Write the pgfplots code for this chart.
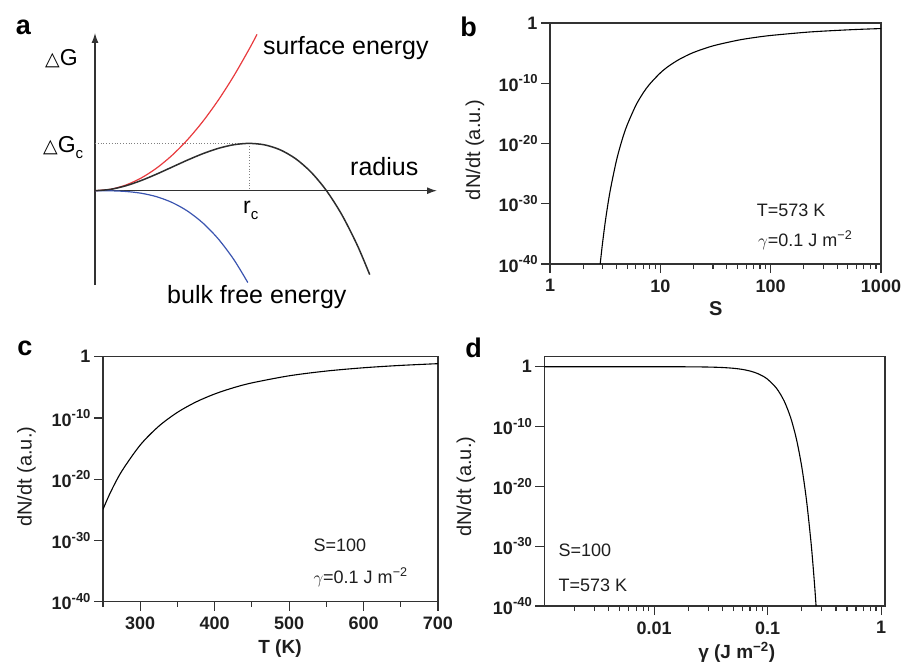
\documentclass[border=0pt]{standalone}
\usepackage{fontspec}
\setmainfont{Liberation Sans}
\newfontfamily\dejavu{DejaVu Sans}
\usepackage{pgfplots}
\pgfplotsset{compat=1.18}
\usetikzlibrary{arrows.meta}

\newcommand\fs[1]{\fontsize{#1}{#1}\selectfont}
\newcommand\sups[1]{\raisebox{0.42em}{\fs{13}#1}}

\definecolor{surfred}{RGB}{232,58,62}
\definecolor{bulkblue}{RGB}{58,84,176}
\definecolor{totgray}{RGB}{45,45,45}
\definecolor{framegray}{RGB}{50,50,50}
\definecolor{txt}{RGB}{30,30,30}

\pgfplotsset{
  nuclaxis/.style={
    scale only axis, ymin=1e-40, ymax=1,
    axis line style={framegray, line width=1.3pt},
    tick style={framegray, line width=1.1pt},
    tick align=outside, xtick pos=left, ytick pos=left,
    major tick length=9pt, minor tick length=5pt,
    ytick={1e-40,1e-30,1e-20,1e-10,1},
    yticklabels={10\sups{-40},10\sups{-30},10\sups{-20},10\sups{-10},1},
    yminorticks=false,
    tick label style={font=\bfseries\fs{18}, text=txt},
    xticklabel style={yshift=-3pt},
  },
  rateline/.style={black, line width=1.1pt, smooth, no marks},
}

\begin{document}
\begin{tikzpicture}
\path[use as bounding box] (0pt,0pt) rectangle (904pt,-666pt);

% panel a: free energy sketch
\begin{axis}[at={(95pt,-285pt)}, anchor=south west, scale only axis,
  width=342pt, height=252pt, axis lines=middle,
  xmin=0, xmax=2.216, ymin=-94.3, ymax=157.7, enlargelimits=false,
  xtick=\empty, ytick=\empty, clip=false,
  axis line style={-{Latex[length=10pt,width=7pt]}, line width=1.3pt, framegray}]
\addplot[gray, dotted, line width=0.8pt] coordinates {(0,47.3) (1,47.3)};
\addplot[gray, dotted, line width=0.8pt] coordinates {(1,47.3) (1,0)};
\addplot[surfred, line width=1.2pt, smooth] coordinates {
  (0,0) (0.1,1.42) (0.2,5.68) (0.3,12.77) (0.4,22.70) (0.5,35.48) (0.6,51.08)
  (0.7,69.53) (0.8,90.82) (0.9,114.94) (1.0,141.9) (1.05,156.4)};
\addplot[bulkblue, line width=1.2pt, smooth] coordinates {
  (0,0) (0.1,-0.10) (0.2,-0.76) (0.3,-2.55) (0.4,-6.05) (0.5,-11.83) (0.6,-20.43)
  (0.7,-32.45) (0.8,-48.44) (0.9,-68.96) (0.99,-91.79)};
\addplot[totgray, line width=1.5pt, smooth] coordinates {
  (0,0) (0.1,1.32) (0.2,4.92) (0.3,10.22) (0.4,16.65) (0.5,23.65) (0.6,30.65)
  (0.7,37.08) (0.8,42.38) (0.9,45.98) (1.0,47.3) (1.1,45.79) (1.2,40.87)
  (1.3,31.98) (1.4,18.54) (1.5,0) (1.6,-24.22) (1.7,-54.68) (1.78,-83.92)};
\end{axis}

% panel b: rate vs supersaturation
\begin{axis}[nuclaxis, ymode=log, at={(550pt,-264pt)}, anchor=south west, width=331pt, height=241pt,
  xmode=log, xmin=1, xmax=1000, xtick={1,10,100,1000}, xticklabels={1,10,100,1000},
  minor xtick={2,3,4,5,6,7,8,9,20,30,40,50,60,70,80,90,200,300,400,500,600,700,800,900}]
\addplot[rateline] coordinates {
  (2.85,1e-40) (2.9,1.86e-39) (3,4.27e-37) (3.2,3.55e-33) (3.5,1.07e-28)
  (4,1.45e-23) (4.5,3.98e-20) (5,1.12e-17) (6,2.14e-14) (7,2.57e-12)
  (8,7.08e-11) (10,5.25e-9) (12,7.76e-8) (15,1.02e-6) (20,1.29e-5)
  (30,1.60e-4) (50,1.35e-3) (70,3.70e-3) (100,8.51e-3) (200,2.73e-2)
  (300,4.48e-2) (500,7.29e-2) (700,9.48e-2) (1000,0.120)};
\end{axis}

% panel c: rate vs temperature
\begin{axis}[nuclaxis, ymode=log, at={(103pt,-601.7pt)}, anchor=south west, width=335pt, height=245pt,
  xmin=250, xmax=700, xtick={300,400,500,600,700}, xticklabels={300,400,500,600,700},
  minor xtick={250,350,450,550,650}]
\addplot[rateline] coordinates {
  (250,1.20e-25) (260,6.92e-23) (275,1.86e-19) (300,3.80e-15) (325,4.57e-12)
  (350,8.26e-10) (375,4.12e-8) (400,8.22e-7) (425,8.45e-6) (450,5.32e-5)
  (500,7.66e-4) (550,4.56e-3) (600,1.57e-2) (650,3.82e-2) (700,7.33e-2)};
\end{axis}

% panel d: rate vs surface energy
\begin{axis}[nuclaxis, ymode=log, at={(544.3pt,-606pt)}, anchor=south west, width=340.7pt, height=249.3pt,
  ymax=47, xmode=log, xmin=0.00108, xmax=1.08,
  xtick={0.01,0.1,1}, xticklabels={0.01,0.1,1},
  minor xtick={0.002,0.003,0.004,0.005,0.006,0.007,0.008,0.009,
    0.02,0.03,0.04,0.05,0.06,0.07,0.08,0.09,0.2,0.3,0.4,0.5,0.6,0.7,0.8,0.9}]
\addplot[rateline] coordinates {
  (0.00108,1) (0.005,0.9995) (0.01,0.995) (0.02,0.962) (0.03,0.878) (0.04,0.734)
  (0.05,0.546) (0.06,0.352) (0.07,0.190) (0.08,0.0841) (0.09,0.0294)
  (0.1,7.94e-3) (0.12,2.35e-4) (0.14,1.73e-6) (0.16,2.50e-9) (0.18,5.62e-13)
  (0.2,1.58e-17) (0.22,4.37e-23) (0.24,9.33e-30) (0.25,1.55e-33)
  (0.26,1.23e-37) (0.267,1e-40)};
\end{axis}

% panel letters
\begin{scope}[every node/.style={font=\bfseries\fs{27}, text=black, inner sep=0pt}]
\node at (23.5pt,-27.5pt) {a};
\node at (468.5pt,-27pt) {b};
\node at (25pt,-348.5pt) {c};
\node at (473.5pt,-348pt) {d};
\end{scope}

% panel a labels
\begin{scope}[every node/.style={text=black, inner sep=0pt, anchor=base west}]
\node[font=\fs{25}] at (263pt,-55pt) {surface energy};
\node[font=\fs{25}] at (350pt,-175pt) {radius};
\node[font=\fs{25}] at (167pt,-303pt) {bulk free energy};
\node[font=\fs{23}] at (45pt,-66pt) {{\dejavu\fs{19}△}G};
\node[font=\fs{23}] at (43pt,-152pt) {{\dejavu\fs{19}△}G\raisebox{-0.3em}{\fs{15}c}};
\node[font=\fs{23}] at (243pt,-213pt) {r\raisebox{-0.3em}{\fs{15}c}};
\end{scope}

% axis labels and notes
\begin{scope}[every node/.style={text=txt, inner sep=0pt}]
\node[font=\fs{20}, rotate=90, anchor=base] at (480pt,-150pt) {dN/dt (a.u.)};
\node[font=\fs{20}, rotate=90, anchor=base] at (31.5pt,-476.7pt) {dN/dt (a.u.)};
\node[font=\fs{20}, rotate=90, anchor=base] at (471pt,-486.7pt) {dN/dt (a.u.)};
\node[font=\bfseries\fs{20}, anchor=base] at (715.7pt,-315pt) {S};
\node[font=\bfseries\fs{19}, anchor=base] at (280pt,-653pt) {T (K)};
\node[font=\bfseries\fs{19}, anchor=base] at (736.7pt,-658pt) {γ (J m\textsuperscript{−2})};
\node[font=\fs{18}, anchor=base west] at (756.7pt,-216pt) {T=573 K};
\node[font=\fs{18}, anchor=base west] at (758pt,-246pt) {$\gamma$=0.1 J m\textsuperscript{−2}};
\node[font=\fs{18}, anchor=base west] at (313.3pt,-551.7pt) {S=100};
\node[font=\fs{18}, anchor=base west] at (313.3pt,-583pt) {$\gamma$=0.1 J m\textsuperscript{−2}};
\node[font=\fs{18}, anchor=base west] at (558.3pt,-556.7pt) {S=100};
\node[font=\fs{18}, anchor=base west] at (558.3pt,-591.7pt) {T=573 K};
\end{scope}
\end{tikzpicture}
\end{document}
